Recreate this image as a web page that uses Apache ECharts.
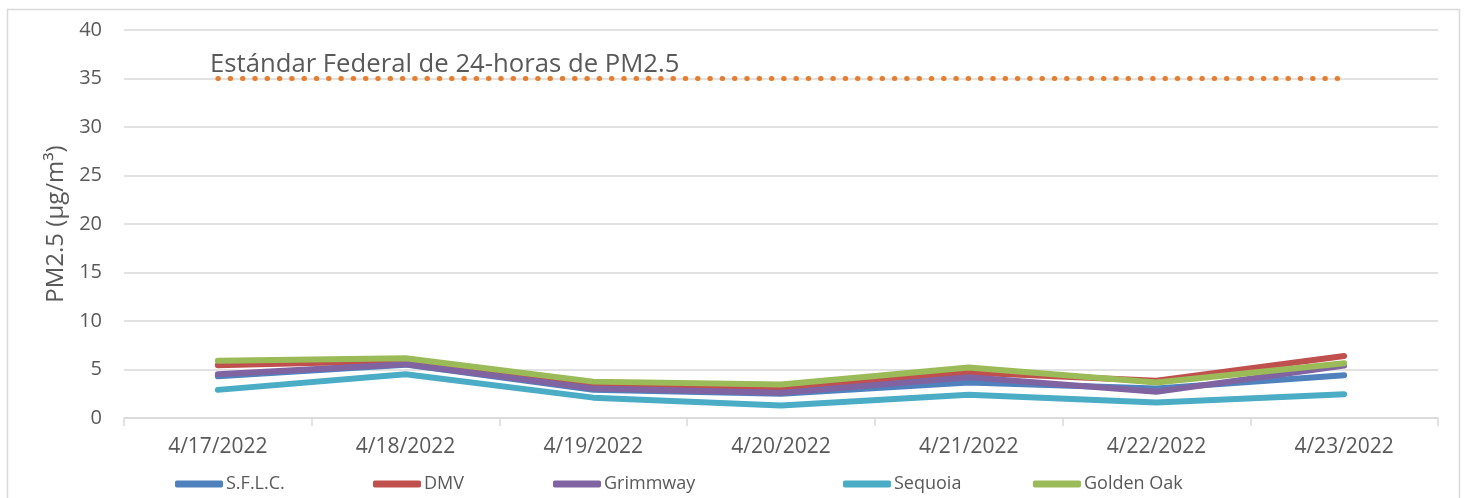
<!DOCTYPE html>
<html><head><meta charset="utf-8">
<script src="https://cdn.jsdelivr.net/npm/echarts@6/dist/echarts.min.js"></script>
<style>html,body{margin:0;padding:0;background:#fff}#c{width:1467px;height:498px}</style>
</head><body><div id="c"></div>
<script>
const categories = ['4/17/2022','4/18/2022','4/19/2022','4/20/2022','4/21/2022','4/22/2022','4/23/2022'];
const sflc      = [4.3, 5.5, 2.9, 2.5, 3.65, 3.05, 4.4];
const dmv       = [5.45, 5.9, 3.3, 3.05, 4.7, 3.85, 6.4];
const grimmway  = [4.5, 5.55, 3.05, 2.6, 4.2, 2.7, 5.4];
const sequoia   = [2.9, 4.5, 2.1, 1.3, 2.4, 1.6, 2.45];
const goldenOak = [5.9, 6.15, 3.75, 3.45, 5.2, 3.65, 5.65];
const standard  = [35, 35, 35, 35, 35, 35, 35];
const yTicks = [0, 40, 5];
const seriesNames = ['S.F.L.C.','DMV','Grimmway','Sequoia','Golden Oak'];
const colors = ['#4F81BD','#C0504D','#8064A2','#4BACC6','#9BBB59'];
const values = [sflc, dmv, grimmway, sequoia, goldenOak];
const standardLabel = 'Estándar Federal de 24-horas de PM2.5';

const font = '"Open Sans", sans-serif';
const txt = '#595959';
const legendLeft = [170, 368, 548, 838, 1028];

const chart = echarts.init(document.getElementById('c'));
chart.setOption({
  animation: false,
  backgroundColor: '#fff',
  grid: {left: 124, right: 29, top: 30, bottom: 80},
  xAxis: {
    type: 'category', data: categories, boundaryGap: true,
    axisLine: {lineStyle: {color: '#D9D9D9', width: 1.5}},
    axisTick: {show: true, length: 8, lineStyle: {color: '#D9D9D9', width: 1.5}},
    axisLabel: {color: txt, fontSize: 21, fontFamily: font, margin: 19}
  },
  yAxis: {
    type: 'value', min: yTicks[0], max: yTicks[1], interval: yTicks[2],
    name: 'PM2.5 (µg/m³)', nameLocation: 'middle', nameGap: 55,
    nameTextStyle: {color: txt, fontSize: 24, fontFamily: font},
    axisLine: {show: false}, axisTick: {show: false},
    axisLabel: {color: txt, fontSize: 20, fontFamily: font, margin: 22},
    splitLine: {lineStyle: {color: '#D9D9D9', width: 1.5}}
  },
  legend: seriesNames.map((n, i) => ({
    data: [n], left: legendLeft[i], top: 470, itemWidth: 48, itemHeight: 7,
    icon: 'roundRect', itemGap: 4,
    textStyle: {color: txt, fontSize: 18, fontFamily: font, padding: [0,0,0,-2]}
  })),
  graphic: [
    {type: 'rect', shape: {x: 7.5, y: 9.5, width: 1452, height: 520},
     style: {fill: 'none', stroke: '#D9D9D9', lineWidth: 1.5}, silent: true},
    {type: 'text', x: 210, y: 65,
     style: {text: standardLabel, fill: txt, font: '25.7px ' + font, verticalAlign: 'middle'}}
  ],
  series: [
    {name: 'Estándar', type: 'line', data: standard, symbol: 'none', silent: true,
     lineStyle: {color: '#E67E30', width: 5, type: [0.5, 11.8], cap: 'round'}, z: 1}
  ].concat(seriesNames.map((n, i) => ({
    name: n, type: 'line', data: values[i], symbol: 'none',
    lineStyle: {color: colors[i], width: 6, cap: 'round', join: 'round'},
    itemStyle: {color: colors[i]}, z: 2 + i
  })))
});
</script></body></html>
